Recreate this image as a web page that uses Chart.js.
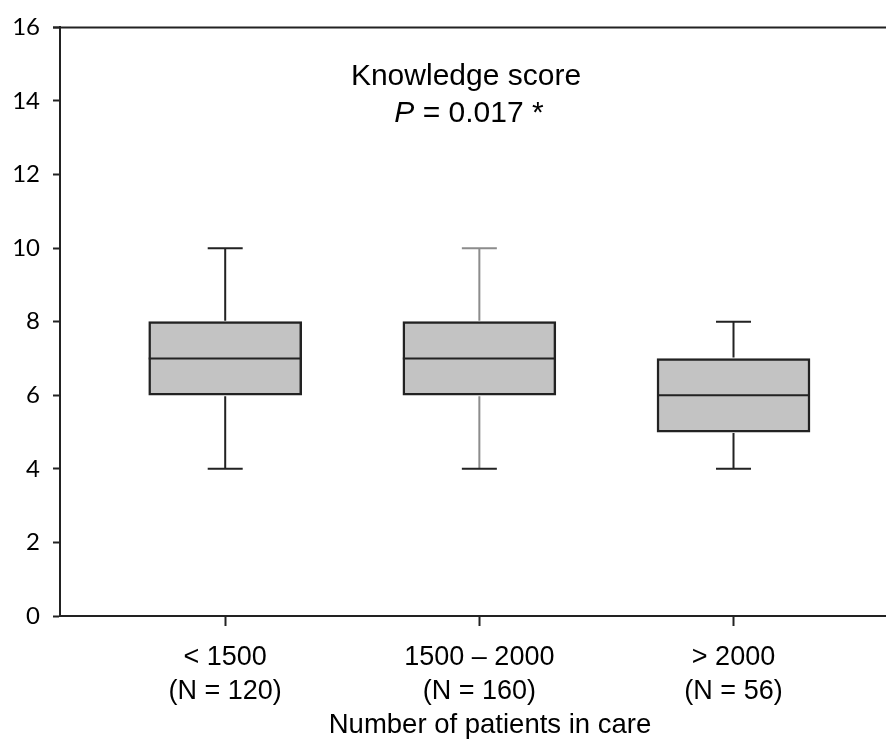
<!DOCTYPE html>
<html>
<head>
<meta charset="utf-8">
<script src="https://cdn.jsdelivr.net/npm/chart.js@4.4.1/dist/chart.umd.min.js"></script>
<style>
  html, body { margin: 0; padding: 0; background: #fff; }
  canvas { display: block; }
</style>
</head>
<body>
<canvas id="boxChart" width="886" height="742"></canvas>
<script>
// dados
const groupNames = ['< 1500', '1500 \u2013 2000', '> 2000'];
const groupSizes = ['(N = 120)', '(N = 160)', '(N = 56)'];
const groupPos = [1, 2, 3];
const whiskerLow = [4, 4, 4];
const q1 = [6, 6, 5];
const median = [7, 7, 6];
const q3 = [8, 8, 7];
const whiskerHigh = [10, 10, 8];
const yTicks = [0, 2, 4, 6, 8, 10, 12, 14, 16];

const titleLine1 = 'Knowledge score';
const pValue = ' = 0.017 *';
const xTitle = 'Number of patients in care';

const LINE = '#222';
const whiskerColors = [LINE, '#8c8c8c', LINE];
const SANS = '"Liberation Sans", Arial, sans-serif';

// bigodes, mediana, moldura e textos
const boxExtras = {
    id: 'boxExtras',
    afterDatasetsDraw(chart) {
        const { ctx, chartArea, scales: { x, y } } = chart;
        const meta = chart.getDatasetMeta(0);
        ctx.save();
        ctx.lineWidth = 2;
        groupPos.forEach((pos, i) => {
            const px = x.getPixelForValue(pos);
            const half = meta.data[i].width / 2;
            const cap = 17.5;
            ctx.strokeStyle = whiskerColors[i];
            ctx.beginPath();
            ctx.moveTo(px, y.getPixelForValue(q3[i]) - 1);
            ctx.lineTo(px, y.getPixelForValue(whiskerHigh[i]));
            ctx.moveTo(px - cap, y.getPixelForValue(whiskerHigh[i]));
            ctx.lineTo(px + cap, y.getPixelForValue(whiskerHigh[i]));
            ctx.moveTo(px, y.getPixelForValue(q1[i]) + 1);
            ctx.lineTo(px, y.getPixelForValue(whiskerLow[i]));
            ctx.stroke();
            ctx.strokeStyle = LINE;
            ctx.beginPath();
            ctx.moveTo(px - cap, y.getPixelForValue(whiskerLow[i]));
            ctx.lineTo(px + cap, y.getPixelForValue(whiskerLow[i]));
            ctx.moveTo(px - half, y.getPixelForValue(median[i]));
            ctx.lineTo(px + half, y.getPixelForValue(median[i]));
            ctx.stroke();
        });

        // linha de cima
        ctx.strokeStyle = LINE;
        ctx.beginPath();
        ctx.moveTo(chartArea.left - 7, chartArea.top);
        ctx.lineTo(chartArea.right, chartArea.top);
        ctx.stroke();

        // título interno
        ctx.fillStyle = '#000';
        ctx.textBaseline = 'alphabetic';
        ctx.textAlign = 'center';
        ctx.font = '30px ' + SANS;
        ctx.fillText(titleLine1, 466, 85);

        ctx.font = 'italic 30px ' + SANS;
        const wP = ctx.measureText('P').width;
        ctx.font = '30px ' + SANS;
        const wRest = ctx.measureText(pValue).width;
        const startX = 469 - (wP + wRest) / 2;
        ctx.textAlign = 'left';
        ctx.font = 'italic 30px ' + SANS;
        ctx.fillText('P', startX, 122);
        ctx.font = '30px ' + SANS;
        ctx.fillText(pValue, startX + wP, 122);

        // título do eixo x
        ctx.textAlign = 'center';
        ctx.font = '27.5px ' + SANS;
        ctx.fillText(xTitle, 490, 733);
        ctx.restore();
    }
};

let chartInstance = new Chart(document.getElementById('boxChart').getContext('2d'), {
    type: 'bar',
    data: {
        datasets: [{
            data: groupPos.map((p, i) => ({ x: p, y: [q1[i], q3[i]] })),
            backgroundColor: '#c3c3c3',
            borderColor: LINE,
            borderWidth: 2.5,
            borderSkipped: false,
            barThickness: 153
        }]
    },
    options: {
        responsive: false,
        devicePixelRatio: 1,
        animation: false,
        layout: { padding: { top: 27, right: 0, left: 0, bottom: 0 } },
        plugins: { legend: { display: false }, tooltip: { enabled: false } },
        scales: {
            x: {
                type: 'linear',
                offset: false,
                min: 0.35,
                max: 3.6,
                afterBuildTicks: (scale) => { scale.ticks = groupPos.map(v => ({ value: v })); },
                afterFit: (scale) => { scale.height = 126; },
                grid: { offset: false, drawOnChartArea: false, drawTicks: true, tickLength: 10, tickColor: LINE, tickWidth: 2 },
                border: { display: true, color: LINE, width: 2 },
                ticks: {
                    color: '#000',
                    padding: 15,
                    maxRotation: 0,
                    font: { family: SANS, size: 27, lineHeight: 1.26 },
                    callback: (v) => {
                        const i = groupPos.indexOf(v);
                        return i >= 0 ? [groupNames[i], groupSizes[i]] : '';
                    }
                }
            },
            y: {
                min: 0,
                max: 16,
                afterBuildTicks: (scale) => { scale.ticks = yTicks.map(v => ({ value: v })); },
                afterFit: (scale) => { scale.width = 60; },
                grid: { drawOnChartArea: false, drawTicks: true, tickLength: 7, tickColor: LINE, tickWidth: 2 },
                border: { display: true, color: LINE, width: 2 },
                ticks: {
                    color: '#000',
                    padding: 13,
                    font: { family: 'Lato, "Open Sans", sans-serif', size: 24 }
                }
            }
        }
    },
    plugins: [boxExtras]
});
</script>
</body>
</html>
